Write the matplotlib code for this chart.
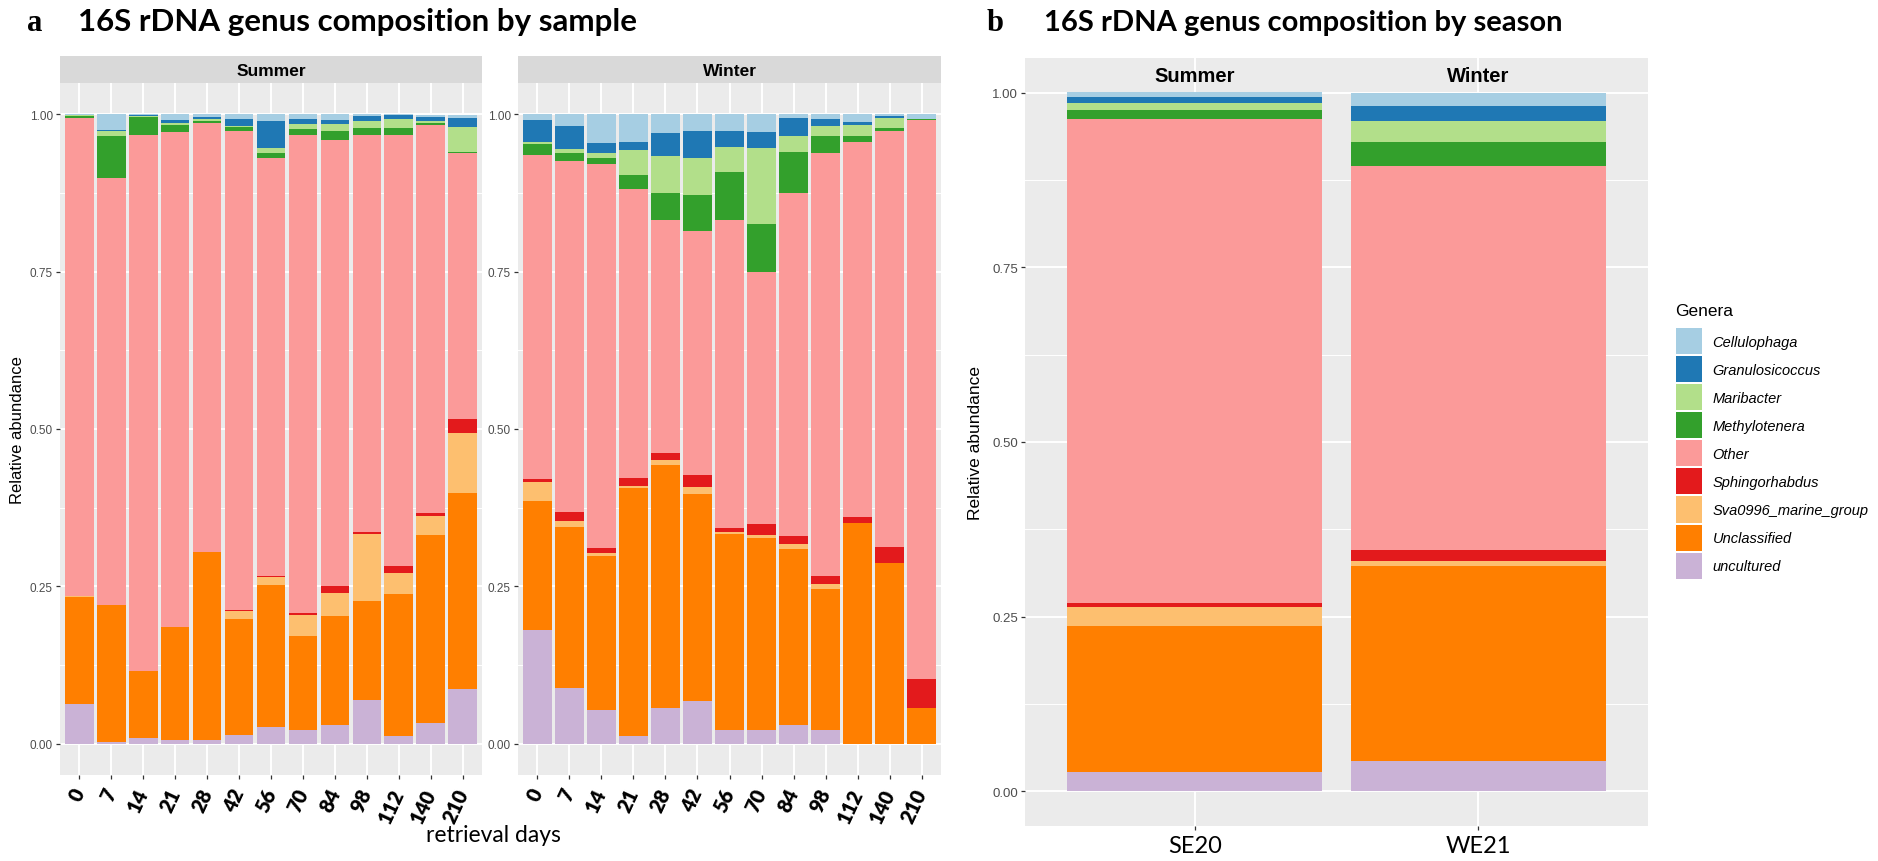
import matplotlib
matplotlib.use("Agg")
import matplotlib.pyplot as plt
import numpy as np
from matplotlib import font_manager
from matplotlib.patches import Patch

days = ["0", "7", "14", "21", "28", "42", "56", "70", "84", "98", "112", "140", "210"]
seasons = ["SE20", "WE21"]

# legend order (top of each stack first)
genera = ["Cellulophaga", "Granulosicoccus", "Maribacter", "Methylotenera", "Other",
          "Sphingorhabdus", "Sva0996_marine_group", "Unclassified", "uncultured"]
genus_colors = ["#A6CEE3", "#1F78B4", "#B2DF8A", "#33A02C", "#FB9A99",
                "#E31A1C", "#FDBF6F", "#FF7F00", "#CAB2D6"]

# relative abundance per retrieval day, summer
summer_cellulophaga = [0.001, 0.024, 0.001, 0.009, 0.004, 0.008, 0.012, 0.008, 0.010, 0.004, 0.001, 0.003, 0.004]
summer_granulosicoccus = [0.000, 0.003, 0.002, 0.005, 0.003, 0.010, 0.043, 0.007, 0.006, 0.007, 0.007, 0.007, 0.015]
summer_maribacter = [0.002, 0.008, 0.001, 0.003, 0.003, 0.002, 0.007, 0.008, 0.011, 0.012, 0.013, 0.002, 0.040]
summer_methylotenera = [0.003, 0.066, 0.029, 0.011, 0.004, 0.006, 0.008, 0.009, 0.015, 0.011, 0.012, 0.004, 0.002]
summer_other = [0.759, 0.678, 0.852, 0.786, 0.681, 0.762, 0.664, 0.760, 0.709, 0.630, 0.684, 0.617, 0.422]
summer_sphingorhabdus = [0.001, 0.001, 0.000, 0.001, 0.000, 0.002, 0.002, 0.003, 0.010, 0.004, 0.012, 0.005, 0.023]
summer_sva0996 = [0.001, 0.000, 0.000, 0.000, 0.000, 0.012, 0.013, 0.034, 0.037, 0.107, 0.034, 0.029, 0.095]
summer_unclassified = [0.170, 0.217, 0.106, 0.180, 0.299, 0.185, 0.226, 0.150, 0.174, 0.156, 0.225, 0.299, 0.312]
summer_uncultured = [0.063, 0.003, 0.009, 0.005, 0.006, 0.013, 0.026, 0.021, 0.029, 0.070, 0.012, 0.033, 0.086]

# relative abundance per retrieval day, winter
winter_cellulophaga = [0.009, 0.019, 0.045, 0.043, 0.029, 0.027, 0.027, 0.028, 0.006, 0.007, 0.012, 0.003, 0.007]
winter_granulosicoccus = [0.035, 0.036, 0.017, 0.014, 0.037, 0.042, 0.024, 0.026, 0.028, 0.011, 0.004, 0.002, 0.000]
winter_maribacter = [0.003, 0.007, 0.007, 0.039, 0.059, 0.059, 0.040, 0.120, 0.025, 0.016, 0.018, 0.016, 0.000]
winter_methylotenera = [0.017, 0.012, 0.009, 0.022, 0.043, 0.057, 0.076, 0.077, 0.066, 0.027, 0.010, 0.005, 0.002]
winter_other = [0.515, 0.558, 0.611, 0.460, 0.370, 0.388, 0.491, 0.400, 0.545, 0.672, 0.596, 0.661, 0.888]
winter_sphingorhabdus = [0.005, 0.014, 0.008, 0.013, 0.012, 0.019, 0.006, 0.018, 0.013, 0.013, 0.010, 0.026, 0.047]
winter_sva0996 = [0.030, 0.010, 0.005, 0.002, 0.007, 0.011, 0.003, 0.004, 0.007, 0.009, 0.000, 0.000, 0.000]
winter_unclassified = [0.206, 0.255, 0.244, 0.395, 0.386, 0.329, 0.312, 0.306, 0.280, 0.224, 0.350, 0.287, 0.056]
winter_uncultured = [0.180, 0.089, 0.054, 0.012, 0.057, 0.068, 0.021, 0.021, 0.030, 0.021, 0.000, 0.000, 0.000]

# pooled per season (SE20, WE21)
season_cellulophaga = [0.007, 0.019]
season_granulosicoccus = [0.009, 0.021]
season_maribacter = [0.009, 0.031]
season_methylotenera = [0.014, 0.033]
season_other = [0.693, 0.551]
season_sphingorhabdus = [0.005, 0.015]
season_sva0996 = [0.028, 0.007]
season_unclassified = [0.208, 0.280]
season_uncultured = [0.028, 0.043]

summer = [summer_cellulophaga, summer_granulosicoccus, summer_maribacter, summer_methylotenera,
          summer_other, summer_sphingorhabdus, summer_sva0996, summer_unclassified, summer_uncultured]
winter = [winter_cellulophaga, winter_granulosicoccus, winter_maribacter, winter_methylotenera,
          winter_other, winter_sphingorhabdus, winter_sva0996, winter_unclassified, winter_uncultured]
by_season = [season_cellulophaga, season_granulosicoccus, season_maribacter, season_methylotenera,
             season_other, season_sphingorhabdus, season_sva0996, season_unclassified, season_uncultured]

installed = {f.name for f in font_manager.fontManager.ttflist}


def pick(*names):
    for name in names:
        if name in installed:
            return name
    return "DejaVu Sans"


SANS = pick("Liberation Sans", "Arial", "DejaVu Sans")
NARROW = pick("Liberation Sans Narrow", "DejaVu Sans Condensed", SANS)
HUMANIST = pick("Lato", "Open Sans", "DejaVu Sans")
SERIF = pick("Liberation Serif", "DejaVu Serif")
narrow_ok = NARROW != SANS

W, H = 1878, 862
fig = plt.figure(figsize=(W / 100, H / 100), dpi=100)


def px_axes(left, top, right, bottom):
    return fig.add_axes([left / W, 1 - bottom / H, (right - left) / W, (bottom - top) / H])


def gg_panel(ax, n, tick_font, tick_size):
    ax.set_facecolor("#EBEBEB")
    for s in ax.spines.values():
        s.set_visible(False)
    ax.set_xlim(0.4, n + 0.6)
    ax.set_ylim(-0.05, 1.05)
    ax.set_yticks([0, 0.25, 0.5, 0.75, 1.0])
    ax.set_yticklabels(["0.00", "0.25", "0.50", "0.75", "1.00"],
                       fontfamily=tick_font, fontsize=tick_size, color="#4D4D4D")
    ax.set_yticks([0.125, 0.375, 0.625, 0.875], minor=True)
    ax.set_xticks(np.arange(1, n + 1))
    ax.grid(which="major", color="white", lw=1.4)
    ax.grid(which="minor", axis="y", color="white", lw=0.7)
    ax.set_axisbelow(True)
    ax.tick_params(which="major", length=3.2, width=0.9, color="#333333", pad=2)
    ax.tick_params(which="minor", length=0)


def stacked(ax, table, width=0.9):
    x = np.arange(1, len(table[0]) + 1)
    bottom = np.zeros(len(x))
    # first genus sits on top, so stack from the end of the list
    for vals, col in zip(table[::-1], genus_colors[::-1]):
        vals = np.asarray(vals)
        ax.bar(x, vals, width=width, bottom=bottom, color=col, linewidth=0)
        bottom += vals


strip_font = NARROW
strip_size = 15 if narrow_ok else 12.5
ytick_font = NARROW if narrow_ok else SANS
ytick_size_a = 10 if narrow_ok else 8.5

# panel a: one facet per season
for (left, right), table, label in [((60, 482), summer, "Summer"), ((518, 941), winter, "Winter")]:
    ax = px_axes(left, 84, right, 776)
    gg_panel(ax, len(days), ytick_font, ytick_size_a)
    stacked(ax, table)
    ax.set_xticklabels(days, rotation=65, rotation_mode="anchor", ha="right", va="center",
                       fontfamily=HUMANIST, fontweight="heavy", fontsize=14.5, color="black")
    for t in ax.get_xticklabels():
        t.set_y(-0.01)

    strip = px_axes(left, 57, right, 84)
    strip.set_facecolor("#D9D9D9")
    strip.set_xticks([])
    strip.set_yticks([])
    for s in strip.spines.values():
        s.set_visible(False)
    strip.text(0.5, 0.45, label, ha="center", va="center", fontfamily=strip_font,
               fontweight="bold", fontsize=strip_size, color="black")

fig.text(18 / W, 1 - 430 / H, "Relative abundance", rotation=90, ha="center", va="center",
         fontfamily=SANS, fontsize=12, color="black")
fig.text(493 / W, 1 - 836 / H, "retrieval days", ha="center", va="center",
         fontfamily=HUMANIST, fontsize=16.5, color="black")

# panel b: pooled by season
axb = px_axes(1025, 59, 1648, 827)
gg_panel(axb, len(seasons), SANS, 9.5)
stacked(axb, by_season)
axb.set_xticklabels(seasons, fontfamily=HUMANIST, fontsize=17, color="black")
axb.tick_params(axis="x", pad=3)
for i, label in enumerate(["Summer", "Winter"]):
    axb.text(i + 1, 1.025, label, ha="center", va="center", fontfamily=SANS,
             fontweight="bold", fontsize=14.5, color="black")

fig.text(975 / W, 1 - 443 / H, "Relative abundance", rotation=90, ha="center", va="center",
         fontfamily=SANS, fontsize=12.5, color="black")

# panel letters and titles
for letter, x_letter, x_title, size, title in [
        ("a", 27, 78, 22.5, "16S rDNA genus composition by sample"),
        ("b", 987, 1044, 21, "16S rDNA genus composition by season")]:
    fig.text(x_letter / W, 1 - 31 / H, letter, ha="left", va="baseline",
             fontfamily=SERIF, fontweight="bold", fontsize=22)
    fig.text(x_title / W, 1 - 31 / H, title, ha="left", va="baseline",
             fontfamily=HUMANIST, fontweight="bold", fontsize=size)

# legend: title placed on its own, 26 px keys below it
fig.text(1675 / W, 1 - 312 / H, "Genera", ha="left", va="center",
         fontfamily=SANS, fontsize=12.5, color="black")
handles = [Patch(facecolor=c, edgecolor="none") for c in genus_colors]
fig.legend(handles, genera, loc="upper left", bbox_to_anchor=(1676 / W, 1 - 329 / H),
           frameon=False, prop=dict(family=SANS, style="italic", size=10.5),
           handlelength=1.8, handleheight=2.37, labelspacing=0.14,
           handletextpad=0.7, borderpad=0, borderaxespad=0)

fig.savefig("out.png", dpi=100, facecolor="white")
